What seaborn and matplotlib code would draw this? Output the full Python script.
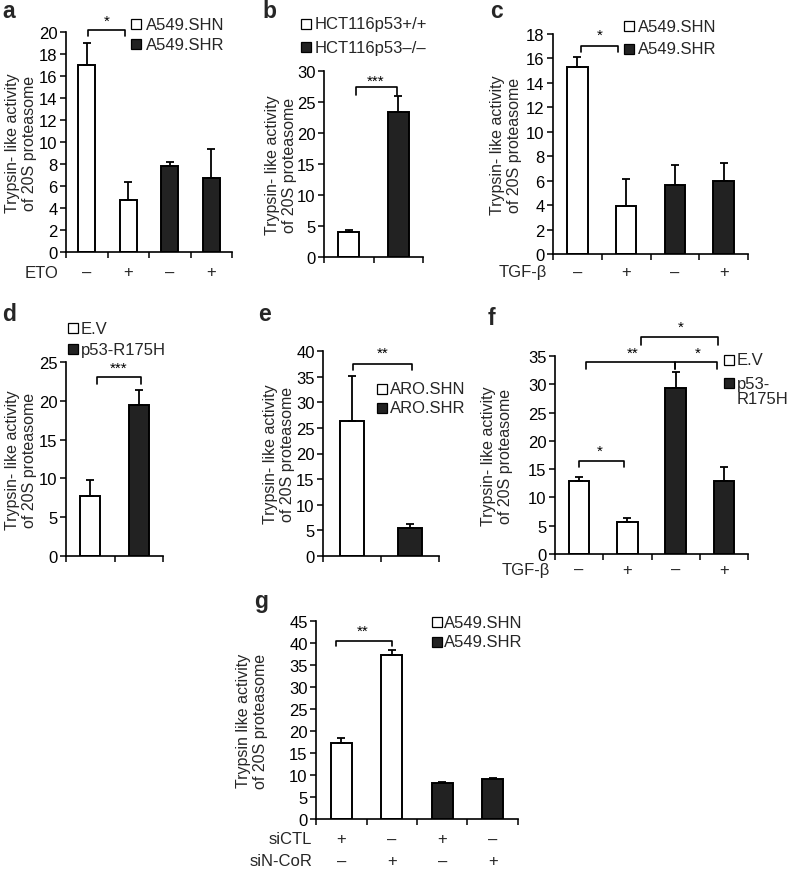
import numpy as np
import pandas as pd
import matplotlib
matplotlib.use("Agg")
import matplotlib.pyplot as plt
import seaborn as sns
from matplotlib.patches import Rectangle

sns.set_theme(style="ticks")
plt.rcParams["font.family"] = ["Liberation Sans", "DejaVu Sans"]

# ---------------- data ----------------
# panel a
a_groups = ["A549.SHN", "A549.SHN", "A549.SHR", "A549.SHR"]
a_eto = ["–", "+", "–", "+"]
a_mean = [17.0, 4.7, 7.8, 6.75]
a_err = [2.0, 1.7, 0.35, 2.65]
a_yticks = [0, 2, 4, 6, 8, 10, 12, 14, 16, 18, 20]

# panel b
b_groups = ["HCT116p53+/+", "HCT116p53–/–"]
b_mean = [4.0, 23.4]
b_err = [0.4, 2.6]
b_yticks = [0, 5, 10, 15, 20, 25, 30]

# panel c
c_groups = ["A549.SHN", "A549.SHN", "A549.SHR", "A549.SHR"]
c_tgf = ["–", "+", "–", "+"]
c_mean = [15.3, 3.9, 5.65, 5.95]
c_err = [0.8, 2.2, 1.65, 1.5]
c_yticks = [0, 2, 4, 6, 8, 10, 12, 14, 16, 18]

# panel d
d_groups = ["E.V", "p53-R175H"]
d_mean = [7.7, 19.4]
d_err = [2.1, 2.0]
d_yticks = [0, 5, 10, 15, 20, 25]

# panel e
e_groups = ["ARO.SHN", "ARO.SHR"]
e_mean = [26.3, 5.5]
e_err = [8.8, 0.8]
e_yticks = [0, 5, 10, 15, 20, 25, 30, 35, 40]

# panel f
f_groups = ["E.V", "E.V", "p53-\nR175H", "p53-\nR175H"]
f_tgf = ["–", "+", "–", "+"]
f_mean = [12.9, 5.7, 29.3, 12.9]
f_err = [0.7, 0.7, 2.8, 2.4]
f_yticks = [0, 5, 10, 15, 20, 25, 30, 35]

# panel g
g_groups = ["A549.SHN", "A549.SHN", "A549.SHR", "A549.SHR"]
g_sictl = ["+", "–", "+", "–"]
g_sincor = ["–", "+", "–", "+"]
g_mean = [17.3, 37.2, 8.2, 9.0]
g_err = [1.2, 1.2, 0.25, 0.25]
g_yticks = [0, 5, 10, 15, 20, 25, 30, 35, 40, 45]

YLAB = "Trypsin- like activity\nof 20S proteasome"
YLAB_G = "Trypsin like activity\nof 20S proteasome"

# ---------------- style ----------------
W, H = 788, 870
FS = 12
FSL = 11.5
DARK = "#222222"
fig = plt.figure(figsize=(W / 100, H / 100), dpi=100)


def rect(l, r, top, bottom):
    return [l / W, 1 - bottom / H, (r - l) / W, (bottom - top) / H]


def panel(r, groups, means, errs, yticks, ylabel, labx):
    ax = fig.add_axes(r)
    uniq = list(dict.fromkeys(groups))
    pal = {uniq[0]: "white", uniq[1]: DARK}
    df = pd.DataFrame({"pos": list(range(len(means))), "group": groups, "val": means})
    sns.barplot(data=df, x="pos", y="val", hue="group", palette=pal, dodge=False,
                width=0.42, edgecolor="black", linewidth=1.4, errorbar=None,
                legend=False, ax=ax, saturation=1)
    ax.errorbar(df["pos"], df["val"], yerr=[np.zeros(len(errs)), errs], fmt="none",
                ecolor="black", elinewidth=1.3, capsize=3, capthick=1.3, zorder=5)
    n = len(means)
    ax.set_xlim(-0.5, n - 0.5)
    ax.set_xticks(np.arange(-0.5, n, 1.0))
    ax.set_xticklabels([])
    ax.set_ylim(0, yticks[-1])
    ax.set_yticks(yticks)
    ax.set_xlabel("")
    ax.set_ylabel(ylabel, fontsize=FSL, labelpad=0, linespacing=1.15)
    ax.yaxis.set_label_coords(labx, 0.5)
    ax.tick_params(axis="both", direction="out", length=4, width=1.1, labelsize=FS,
                   pad=2, color="black", labelcolor="black")
    sns.despine(ax=ax)
    for s in ("left", "bottom"):
        ax.spines[s].set_linewidth(1.2)
        ax.spines[s].set_color("black")
    return ax


def bracket(ax, x1, x2, ytop, yleg, txt, xt, yt):
    ax.plot([x1, x1, x2, x2], [yleg, ytop, ytop, yleg], color="black", lw=1.2,
            clip_on=False, zorder=6)
    ax.text(xt, yt, txt, ha="center", va="center", fontsize=11, color="black")


def signs(ax, labels, dy_px, row_label=None, dx_px=-6):
    for i, s in enumerate(labels):
        ax.annotate(s, xy=(i, 0), xycoords=("data", "axes fraction"),
                    xytext=(0, -dy_px * 0.72), textcoords="offset points",
                    ha="center", va="center", fontsize=FS)
    if row_label:
        ax.annotate(row_label, xy=(0, 0), xycoords="axes fraction",
                    xytext=(dx_px * 0.72, -dy_px * 0.72), textcoords="offset points",
                    ha="right", va="center", fontsize=FS)


def legend(labels, sq_x, rows_y, txt_dx=14, sq=9.5, sq_y=None):
    cols = ["white", DARK]
    if sq_y is None:
        sq_y = rows_y
    for lab, y, ys, c in zip(labels, rows_y, sq_y, cols):
        fig.add_artist(Rectangle((sq_x / W, 1 - (ys + sq / 2) / H), sq / W, sq / H,
                                 transform=fig.transFigure, facecolor=c,
                                 edgecolor="black", lw=0.9))
        fig.text((sq_x + txt_dx) / W, 1 - y / H, lab, ha="left", va="center",
                 fontsize=FS, linespacing=1.0)


def letter(ch, x, y):
    fig.text(x / W, 1 - y / H, ch, ha="left", va="baseline", fontsize=16.5,
             fontweight="bold")


# ---------------- panel a ----------------
ax = panel(rect(66, 232, 33, 253), a_groups, a_mean, a_err, a_yticks, YLAB, -0.175)
bracket(ax, 0.04, 0.91, 20.2, 19.6, "*", 0.48, 21.0)
signs(ax, a_eto, 20, "ETO", -8)
legend(list(dict.fromkeys(a_groups)), 131, [25, 45], txt_dx=15)
letter("a", 2, 18)

# ---------------- panel b ----------------
ax = panel(rect(324, 423, 72, 258), b_groups, b_mean, b_err, b_yticks, YLAB, -0.273)
bracket(ax, 0.14, 0.97, 27.4, 26.1, "***", 0.55, 28.5)
legend(b_groups, 301, [25, 48])
letter("b", 262, 18)

# ---------------- panel c ----------------
ax = panel(rect(553, 748, 35, 255), c_groups, c_mean, c_err, c_yticks, YLAB, -0.159)
bracket(ax, 0.07, 0.83, 17.0, 16.55, "*", 0.46, 17.9)
signs(ax, c_tgf, 18, "TGF-β", -6)
legend(list(dict.fromkeys(c_groups)), 624, [27, 50])
letter("c", 490, 18)

# ---------------- panel d ----------------
ax = panel(rect(66, 163, 363, 557), d_groups, d_mean, d_err, d_yticks, YLAB, -0.299)
bracket(ax, 0.14, 1.05, 23.1, 22.2, "***", 0.58, 24.3)
legend(d_groups, 68, [329, 350], txt_dx=13)
letter("d", 2, 321)

# ---------------- panel e ----------------
ax = panel(rect(323, 439, 352, 557), e_groups, e_mean, e_err, e_yticks, YLAB, -0.241)
bracket(ax, 0.02, 1.03, 37.5, 36.3, "**", 0.53, 39.6)
legend(e_groups, 377, [390, 409], txt_dx=13)
letter("e", 258, 321)

# ---------------- panel f ----------------
ax = panel(rect(555, 748, 357, 555), f_groups, f_mean, f_err, f_yticks, YLAB, -0.218)
bracket(ax, 0.15, 1.99, 33.9, 32.7, "**", 1.1, 35.6)
bracket(ax, 1.99, 2.86, 33.9, 32.7, "*", 2.45, 35.6)
bracket(ax, 1.28, 2.88, 38.3, 36.9, "*", 2.1, 40.2)
bracket(ax, 0.0, 0.93, 16.4, 15.3, "*", 0.42, 18.2)
signs(ax, f_tgf, 15, "TGF-β", -5)
legend(list(dict.fromkeys(f_groups)), 724, [361, 392], txt_dx=13, sq_y=[361, 384])
letter("f", 488, 325)

# ---------------- panel g ----------------
ax = panel(rect(316, 518, 622, 820), g_groups, g_mean, g_err, g_yticks, YLAB_G, -0.238)
bracket(ax, -0.11, 1.0, 40.5, 39.4, "**", 0.43, 42.8)
signs(ax, g_sictl, 20, "siCTL", -4)
signs(ax, g_sincor, 42, "siN-CoR", -4)
legend(list(dict.fromkeys(g_groups)), 432, [623, 643], txt_dx=12)
letter("g", 254, 608)

fig.savefig("out.png", dpi=100, facecolor="white")
